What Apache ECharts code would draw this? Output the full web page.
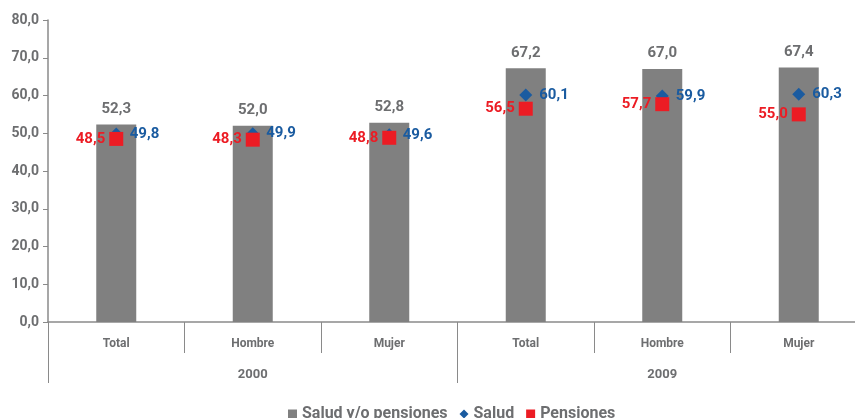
<!DOCTYPE html>
<html>
<head>
<meta charset="utf-8">
<script src="https://cdn.jsdelivr.net/npm/echarts@6/dist/echarts.min.js"></script>
<style>
    html, body { margin: 0; padding: 0; background: #fff; }
    .chart-main { width: 855px; height: 418px; }
</style>
</head>
<body>
<div class="chart-main"></div>
<script>
const categories = ['Total', 'Hombre', 'Mujer', 'Total', 'Hombre', 'Mujer'];
const years = ['2000', '2009'];
const yTicks = [0, 10, 20, 30, 40, 50, 60, 70, 80];
const saludPensiones = [52.3, 52.0, 52.8, 67.2, 67.0, 67.4];
const salud = [49.8, 49.9, 49.6, 60.1, 59.9, 60.3];
const pensiones = [48.5, 48.3, 48.8, 56.5, 57.7, 55.0];

(function () {
    "use strict";

    const fontFamily = 'Roboto, "Liberation Sans", sans-serif';
    const grayText = '#6d6e70';
    const axisGray = '#8a8a8a';

    function fmt(v) {
        return v.toFixed(1).replace('.', ',');
    }

    function drawChart() {
        let myChart = echarts.init(document.querySelector('.chart-main'));
        let option = {
            animation: false,
            // the plot runs a bit past the right edge of the picture
            grid: { left: 48, width: 819, top: 20, bottom: 96, outerBoundsMode: 'none' },
            legend: {
                bottom: -9,
                left: 283,
                itemWidth: 9,
                itemHeight: 9,
                itemGap: 12,
                textStyle: { color: grayText, fontSize: 16, fontWeight: 'bold', fontFamily: fontFamily },
                data: [
                    { name: 'Salud y/o pensiones', icon: 'rect' },
                    { name: 'Salud', icon: 'diamond' },
                    { name: 'Pensiones', icon: 'rect' }
                ]
            },
            xAxis: [
                {
                    type: 'category',
                    data: categories,
                    axisLine: { lineStyle: { color: axisGray, width: 1.5 } },
                    axisTick: { show: true, length: 31, lineStyle: { color: axisGray } },
                    axisLabel: { margin: 16, color: grayText, fontSize: 12, fontWeight: 'bold', fontFamily: fontFamily }
                },
                {
                    type: 'category',
                    data: years,
                    position: 'bottom',
                    axisLine: { show: false },
                    axisTick: { show: true, length: 61, lineStyle: { color: axisGray } },
                    axisLabel: { margin: 46, color: grayText, fontSize: 13, fontWeight: 'bold', fontFamily: fontFamily }
                }
            ],
            yAxis: {
                type: 'value',
                min: yTicks[0],
                max: yTicks[yTicks.length - 1],
                interval: 10,
                splitLine: { show: false },
                axisLine: { show: true, lineStyle: { color: axisGray, width: 1.5 } },
                axisTick: { show: true, length: 5, lineStyle: { color: axisGray } },
                axisLabel: {
                    margin: 9,
                    color: grayText,
                    fontSize: 14,
                    fontWeight: 'bold',
                    fontFamily: fontFamily,
                    formatter: function (v) { return fmt(v); }
                }
            },
            series: [
                {
                    name: 'Salud y/o pensiones',
                    type: 'bar',
                    barWidth: 40,
                    data: saludPensiones,
                    itemStyle: { color: '#808080' },
                    label: {
                        show: true,
                        position: 'top',
                        distance: 8,
                        color: grayText,
                        fontSize: 15,
                        fontWeight: 'bold',
                        fontFamily: fontFamily,
                        formatter: function (p) { return fmt(p.value); }
                    }
                },
                {
                    name: 'Salud',
                    type: 'line',
                    data: salud,
                    symbol: 'diamond',
                    symbolSize: 13,
                    lineStyle: { width: 0, opacity: 0 },
                    itemStyle: { color: '#1a5ba0' },
                    label: {
                        show: true,
                        position: 'right',
                        distance: 7,
                        color: '#1a5ba0',
                        fontSize: 15,
                        fontWeight: 'bold',
                        fontFamily: fontFamily,
                        formatter: function (p) { return fmt(p.value); }
                    }
                },
                {
                    name: 'Pensiones',
                    type: 'line',
                    data: pensiones,
                    symbol: 'rect',
                    symbolSize: 14,
                    lineStyle: { width: 0, opacity: 0 },
                    itemStyle: { color: '#ec1c24' },
                    label: {
                        show: true,
                        position: 'left',
                        distance: 4,
                        color: '#ec1c24',
                        fontSize: 15,
                        fontWeight: 'bold',
                        fontFamily: fontFamily,
                        formatter: function (p) { return fmt(p.value); }
                    }
                }
            ]
        };
        myChart.setOption(option);
    }

    drawChart();
})();
</script>
</body>
</html>
